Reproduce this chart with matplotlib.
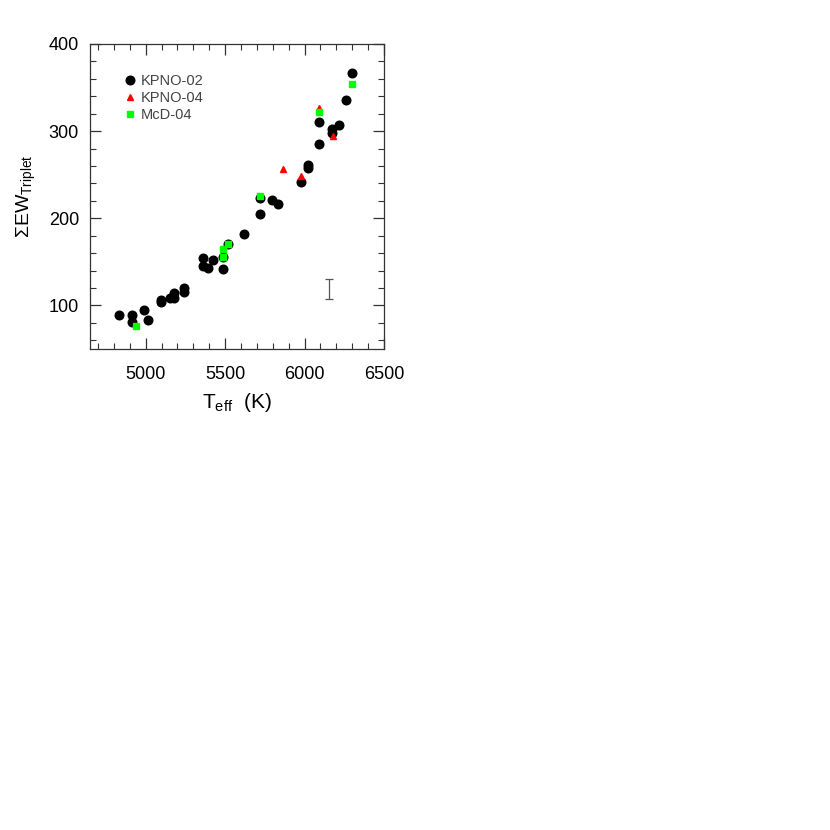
import matplotlib
matplotlib.use('Agg')
import matplotlib.pyplot as plt
from matplotlib.ticker import MultipleLocator

# KPNO-02 (black circles)
kpno02_teff = [6298, 6260, 6094, 6172, 6172, 6218, 6094, 6020, 6020, 5977, 5794,
               5720, 5830, 5720, 5619, 5521, 5485, 5485, 5422, 5359, 5359, 5395,
               5241, 5241, 5180, 5180, 5153, 5096, 5096, 4989, 5016, 4912, 4912, 4834]
kpno02_ew = [367, 336, 311, 302, 298, 306.5, 285, 261, 258, 242, 221,
             223, 216, 205, 182.5, 171, 155.5, 141.5, 152, 154, 145, 143,
             120.5, 115.5, 114, 109, 108, 106, 104, 95, 83, 88.5, 81.5, 88.5]
# KPNO-04 (red triangles)
kpno04_teff = [6094, 6176, 5865, 5977]
kpno04_ew = [326, 294, 256, 249]
# McD-04 (green squares)
mcd04_teff = [6298, 6094, 5720, 5521, 5485, 5485, 4937]
mcd04_ew = [354, 322, 225.5, 171, 165, 155.5, 76]
# typical error bar
err_teff = 6151
err_ew = 119
err_size = 11.5

plt.rcParams['font.family'] = ['Liberation Sans', 'DejaVu Sans']
plt.rcParams['mathtext.default'] = 'regular'

fig = plt.figure(figsize=(8.3, 8.3), dpi=100)
ax = fig.add_axes([90/830, 1-349/830, 294/830, 305/830])

ax.plot(kpno02_teff, kpno02_ew, 'o', color='black', markersize=6.2, label='KPNO-02', zorder=3)
ax.plot(kpno04_teff, kpno04_ew, '^', color='red', markersize=5, label='KPNO-04', zorder=4)
ax.plot(mcd04_teff, mcd04_ew, 's', color='#00ff00', markersize=4.2, label='McD-04', zorder=5)
ax.errorbar([err_teff], [err_ew], yerr=[err_size], fmt='none', ecolor='#555555',
            elinewidth=0.9, capsize=3, capthick=0.9)

ax.set_xlim(4650, 6500)
ax.set_ylim(50, 400)
ax.xaxis.set_major_locator(MultipleLocator(500))
ax.xaxis.set_minor_locator(MultipleLocator(100))
ax.yaxis.set_major_locator(MultipleLocator(100))
ax.yaxis.set_minor_locator(MultipleLocator(20))
ax.tick_params(which='both', direction='in', top=True, right=True, color='#333333')
ax.tick_params(which='major', length=8, width=0.9, labelsize=13)
ax.tick_params(axis='x', which='major', pad=12)
ax.tick_params(axis='y', which='major', pad=8)
ax.tick_params(which='minor', length=4.5, width=0.8)
for s in ax.spines.values():
    s.set_color('#333333')
    s.set_linewidth(0.9)

ax.set_xlabel(r'$T_{eff}$  (K)', fontsize=15, labelpad=6)
ax.set_ylabel(r'$\Sigma EW_{Triplet}$', fontsize=14, labelpad=8)

leg = ax.legend(loc='upper left', bbox_to_anchor=(0.08, 0.92), frameon=False,
                fontsize=10.5, handletextpad=0.0, labelspacing=0.2, handlelength=1.5,
                borderaxespad=0)
for t in leg.get_texts():
    t.set_color('#444444')

fig.savefig('out.png', dpi=100)
